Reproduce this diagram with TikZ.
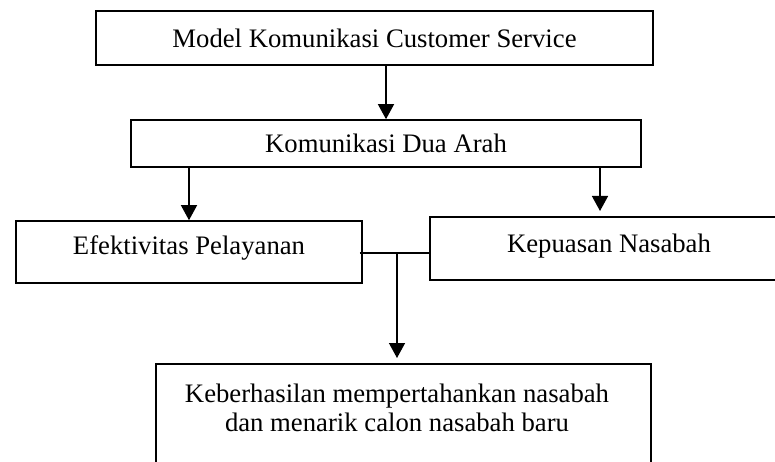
\documentclass[tikz,border=0pt]{standalone}
\usepackage{fontspec}
\setmainfont{Liberation Serif}
\usetikzlibrary{arrows.meta}
\begin{document}
\begin{tikzpicture}[x=1pt,y=-1pt,
  boxst/.style={draw=black,line width=1.6pt,rectangle,inner sep=0pt,
    font=\fontsize{26.7}{30}\selectfont},
  txt/.style={inner sep=0pt,align=center,font=\fontsize{26.7}{29}\selectfont},
  arr/.style={line width=1.4pt,-{Triangle[length=15pt,width=16pt]}},
  conn/.style={line width=1.4pt}]
\useasboundingbox (0,0) rectangle (775,462);
\clip (0,0) rectangle (775,462);
\node[boxst,minimum width=557pt,minimum height=54pt] (box1) at (374.5,38) {Model Komunikasi Customer Service};
\node[boxst,minimum width=510pt,minimum height=47pt] (box2) at (386,143.5) {Komunikasi Dua Arah};
\node[boxst,minimum width=346pt,minimum height=62pt] (eff) at (189,252) {};
\node[txt] (efftxt) at (189,248) {Efektivitas Pelayanan};
\node[boxst,minimum width=360pt,minimum height=63pt] (kep) at (610,248.5) {};
\node[txt] (keptxt) at (609,246) {Kepuasan Nasabah};
\node[boxst,minimum width=495pt,minimum height=120pt] (bot) at (403.5,424) {};
\node[txt] (bottxt) at (397,408) {Keberhasilan mempertahankan nasabah\\dan menarik calon nasabah baru};
\coordinate (k) at (600,211);
\coordinate (j) at (397,253);
\coordinate (b) at (397,358);
\draw[arr] (box1.south -| box2.north) -- (box2.north);
\draw[arr] (box2.south -| eff.north) -- (eff.north);
\draw[arr] (box2.south -| k) -- (k);
\draw[conn] ([xshift=-3pt]eff.east |- j) -- (kep.west |- j);
\draw[arr] (j) -- (b);
\end{tikzpicture}
\end{document}
